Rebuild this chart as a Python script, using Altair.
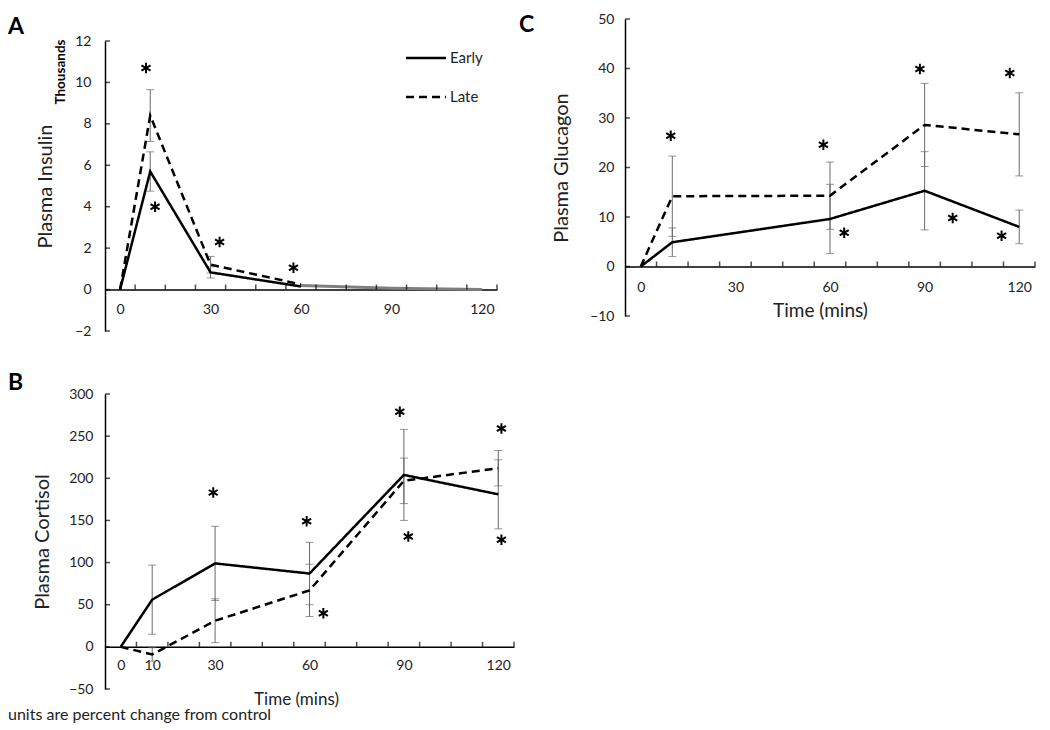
import altair as alt
import pandas as pd

FONT = "Lato"
SERIES = ["Early", "Late"]

# ---------------- Panel A : Plasma Insulin (thousands) ----------------
a_time = [0, 10, 30, 60]
a_early = [0, 5.7, 0.83, 0.15]
a_early_err = [0, 0.95, 0.27, 0]
a_late = [0, 8.4, 1.2, 0.25]
a_late_err = [0, 1.25, 0.4, 0]
a_tail_time = [60, 90, 120]
a_tail_val = [0.2, 0.06, 0.0]
a_star_time = [8.6, 11.6, 33.0, 57.5]
a_star_val = [10.7, 4.0, 2.3, 1.05]
a_yticks = [-2, 0, 2, 4, 6, 8, 10, 12]
a_xlabels = [0, 30, 60, 90, 120]

# ---------------- Panel B : Plasma Cortisol ----------------
b_time = [0, 10, 30, 60, 90, 120]
b_early = [0, 56, 99, 87, 204, 181]
b_early_err = [0, 41, 44, 37, 54, 41]
b_late = [0, -9, 31, 67, 197, 212]
b_late_err = [0, 8, 26, 31, 27, 21]
b_star_time = [29.4, 59.1, 64.4, 88.7, 91.4, 121, 121]
b_star_val = [183, 149, 40, 279, 131, 259, 127]
b_yticks = [-50, 0, 50, 100, 150, 200, 250, 300]
b_xlabels = [0, 10, 30, 60, 90, 120]

# ---------------- Panel C : Plasma Glucagon ----------------
c_time = [0, 10, 60, 90, 120]
c_early = [0, 4.9, 9.6, 15.3, 8.0]
c_early_err = [0, 2.9, 7.0, 7.9, 3.4]
c_late = [0, 14.2, 14.3, 28.6, 26.7]
c_late_err = [0, 8.1, 6.8, 8.4, 8.4]
c_star_time = [9.5, 57.9, 64.5, 88.5, 98.9, 117, 114.4]
c_star_val = [26.4, 24.6, 6.8, 39.9, 9.8, 39.1, 6.2]
c_yticks = [-10, 0, 10, 20, 30, 40, 50]
c_xlabels = [0, 30, 60, 90, 120]

minor_ticks = [5, 15, 25, 35, 45, 55, 65, 75, 85, 95, 105, 115, 125]

STAR = "M0,-1L0,1M-0.866,-0.5L0.866,0.5M-0.866,0.5L0.866,-0.5"
ERR_COLOR = "#6a6a6a"


def series_df(times, early, early_err, late, late_err):
    rows = []
    for name, vals, errs in ((SERIES[0], early, early_err), (SERIES[1], late, late_err)):
        for t, v, e in zip(times, vals, errs):
            rows.append(dict(series=name, time=t, value=v, lo=v - e, hi=v + e, err=e))
    return pd.DataFrame(rows)


def one_row():
    return alt.Chart(pd.DataFrame({"k": [0]}))


def panel(df, stars, ydom, yticks, xlabels, w, h, ytitle, ytitle_x, ylab_pad,
          xlab_pad, letter, letter_x, letter_y, xtitle=None, xtitle_x=None,
          xtitle_y=None, xtitle_size=19, extra=()):
    xscale = alt.Scale(domain=[-5, 125], nice=False, zero=False)
    yscale = alt.Scale(domain=ydom, nice=False, zero=False)
    off = -h * (0 - ydom[0]) / (ydom[1] - ydom[0])
    xaxis_kw = dict(values=xlabels, ticks=False, grid=False, domainColor="black",
                    domainWidth=1.5, labelPadding=xlab_pad, labelFont=FONT,
                    labelFontSize=14, labelColor="#222", offset=off,
                    labelFlush=False, labelOverlap=False)
    if xtitle:
        xaxis_kw.update(title=xtitle, titleFont=FONT, titleFontSize=xtitle_size,
                        titleFontWeight="normal", titleColor="#222",
                        titleX=xtitle_x, titleY=xtitle_y, titleBaseline="alphabetic")
    else:
        xaxis_kw.update(title=None)
    xaxis = alt.Axis(**xaxis_kw)
    yaxis = alt.Axis(values=yticks, ticks=False, grid=False, domainColor="black",
                     domainWidth=1.5, labelPadding=ylab_pad, labelFont=FONT,
                     labelFontSize=14, labelColor="#222", labelFlush=False,
                     labelOverlap=False, title=ytitle, titleFont=FONT,
                     titleFontSize=20, titleFontWeight="normal", titleColor="#222",
                     titleX=ytitle_x, titleY=h / 2, titleBaseline="alphabetic")
    X = alt.X("time:Q", scale=xscale, axis=xaxis)

    def Y(field):
        return alt.Y(field, type="quantitative", scale=yscale, axis=yaxis)

    base = alt.Chart(df)
    errs = base.transform_filter("datum.err > 0")
    err_rule = errs.mark_rule(color=ERR_COLOR, strokeWidth=1).encode(
        x=X, y=Y("lo"), y2="hi")
    caps = errs.transform_fold(["lo", "hi"], as_=["which", "cap"]).mark_tick(
        orient="horizontal", size=8, thickness=1, color=ERR_COLOR).encode(x=X, y=Y("cap"))
    lines = base.mark_line(color="black", strokeWidth=2.5).encode(
        x=X, y=Y("value"),
        strokeDash=alt.StrokeDash("series:N", scale=alt.Scale(domain=SERIES, range=[[1, 0], [8, 5]]), legend=None))
    star_df = pd.DataFrame({"time": stars[0], "value": stars[1]})
    star_layer = alt.Chart(star_df).mark_point(shape=STAR, size=110, filled=False,
                                               stroke="black", strokeWidth=2, opacity=1).encode(
        x=X, y=Y("value"))
    xt = alt.Chart(pd.DataFrame({"time": minor_ticks, "value": [0] * len(minor_ticks)})).mark_tick(
        orient="vertical", size=5, thickness=1.5, color="black", yOffset=-2.5).encode(x=X, y=Y("value"))
    yt = alt.Chart(pd.DataFrame({"time": [-5] * len(yticks), "value": yticks})).mark_tick(
        orient="horizontal", size=5, thickness=1.5, color="black", xOffset=2.5).encode(x=X, y=Y("value"))
    let = one_row().mark_text(text=letter, font=FONT, fontSize=23, fontWeight="bold",
                              align="left", baseline="alphabetic", color="black").encode(
        x=alt.value(letter_x), y=alt.value(letter_y))
    layers = [err_rule, caps, lines]
    layers += [e(X, Y) for e in extra]
    layers += [star_layer, xt, yt, let]
    return alt.layer(*layers).properties(width=w, height=h)


# ---- A extras: grey tail, legend, "Thousands"
def a_tail(X, Y):
    d = pd.DataFrame({"time": a_tail_time, "value": a_tail_val})
    return alt.Chart(d).mark_line(color="#7f7f7f", strokeWidth=3).encode(x=X, y=Y("value"))


def legend_item(i):
    def f(X, Y):
        yv = 17 + 39 * i
        dash = [1, 0] if i == 0 else [8, 5]
        rule = one_row().mark_rule(color="black", strokeWidth=2.5, strokeDash=dash).encode(
            x=alt.value(301), x2=alt.value(341), y=alt.value(yv))
        txt = one_row().mark_text(text=SERIES[i], font=FONT, fontSize=15, align="left",
                                  baseline="middle", color="#222").encode(
            x=alt.value(345), y=alt.value(yv))
        return alt.layer(rule, txt)
    return f


def thousands(X, Y):
    return one_row().mark_text(text="Thousands", font=FONT, fontSize=13.5, fontWeight="bold",
                               angle=270, align="center", baseline="middle", color="black").encode(
        x=alt.value(-44), y=alt.value(31))


def units_note(X, Y):
    return one_row().mark_text(text="units are percent change from control", font=FONT,
                               fontSize=16, align="left", baseline="alphabetic", color="#222").encode(
        x=alt.value(-97), y=alt.value(326))


A = panel(series_df(a_time, a_early, a_early_err, a_late, a_late_err),
          (a_star_time, a_star_val), [-2, 12], a_yticks, a_xlabels, 392, 290,
          "Plasma Insulin", -54, 14, 13, "A", -97, -7,
          extra=(a_tail, legend_item(0), legend_item(1), thousands))

B = panel(series_df(b_time, b_early, b_early_err, b_late, b_late_err),
          (b_star_time, b_star_val), [-50, 300], b_yticks, b_xlabels, 409, 295,
          "Plasma Cortisol", -57, 12, 12, "B", -97, -4,
          xtitle="Time (mins)", xtitle_x=191, xtitle_y=58, xtitle_size=17,
          extra=(units_note,))

C = panel(series_df(c_time, c_early, c_early_err, c_late, c_late_err),
          (c_star_time, c_star_val), [-10, 50], c_yticks, c_xlabels, 410, 297,
          "Plasma Glucagon", -58, 11, 14, "C", -106, 13,
          xtitle="Time (mins)", xtitle_x=195, xtitle_y=50, xtitle_size=19)

spacer = one_row().mark_point(opacity=0).encode(
    x=alt.value(0), y=alt.value(0)).properties(width=1, height=1)

left = alt.vconcat(spacer, alt.vconcat(A, B, spacing=63, bounds="flush"),
                   spacing=21, bounds="flush")
chart = alt.concat(left, C, columns=2, align="none", spacing=4).properties(
    padding={"top": 4, "left": 0, "right": 0, "bottom": 0}).configure_view(stroke=None)

chart.save("out.html", embed_options={"renderer": "svg", "actions": False})
